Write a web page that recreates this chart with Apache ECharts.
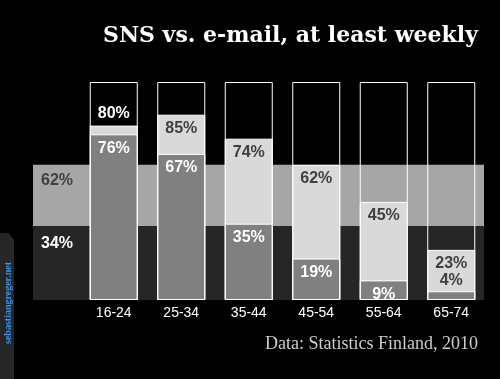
<!DOCTYPE html>
<html>
<head>
<meta charset="utf-8">
<script src="https://cdn.jsdelivr.net/npm/echarts@6/dist/echarts.min.js"></script>
<style>
  html, body { margin: 0; padding: 0; background: #000; }
  #chart { width: 500px; height: 379px; }
</style>
</head>
<body>
<div id="chart"></div>
<script>
// age groups
const categories = ['16-24', '25-34', '35-44', '45-54', '55-64', '65-74']
// share using e-mail / SNS at least weekly (%)
const emailValues = [80, 85, 74, 62, 45, 23]
const snsValues = [76, 67, 35, 19, 9, 4]
const totalValues = [100, 100, 100, 100, 100, 100]
// averages over all age groups
const emailAverage = 62
const snsAverage = 34

const labelFont = { fontFamily: 'Liberation Sans, Arial', fontWeight: 'bold', fontSize: 16 }

const chart = echarts.init(document.getElementById('chart'))

chart.setOption({
  backgroundColor: '#000',
  animation: false,
  title: [{
    text: 'SNS vs. e-mail, at least weekly',
    right: 17,
    top: 20,
    textStyle: { color: '#fff', fontFamily: 'DejaVu Serif', fontWeight: 'bold', fontSize: 22 }
  }, {
    text: 'Data: Statistics Finland, 2010',
    right: 17,
    top: 330,
    textStyle: { color: '#cccccc', fontFamily: 'Liberation Serif', fontWeight: 'normal', fontSize: 18 }
  }],
  // grid 0: background bands, grid 1: bars
  grid: [
    { left: 33, right: 16, top: 82, bottom: 79 },
    { left: 80, right: 15, top: 82, bottom: 79 }
  ],
  xAxis: [{
    gridIndex: 0,
    type: 'value',
    min: 0,
    max: 1,
    show: false
  }, {
    gridIndex: 1,
    type: 'category',
    data: categories,
    axisLine: { show: false },
    axisTick: { show: false },
    axisLabel: { color: '#fff', fontFamily: 'Liberation Sans, Arial', fontSize: 14, margin: 6 }
  }],
  yAxis: [
    { gridIndex: 0, type: 'value', min: 0, max: 100, show: false },
    { gridIndex: 1, type: 'value', min: 0, max: 100, show: false }
  ],
  series: [{
    type: 'line',
    xAxisIndex: 0,
    yAxisIndex: 0,
    data: [],
    z: 0,
    silent: true,
    markArea: {
      silent: true,
      data: [
        [{
          yAxis: snsAverage,
          itemStyle: { color: '#a6a6a6' },
          label: { show: true, formatter: emailAverage + '%', position: 'insideTopLeft', distance: 8, color: '#404040', ...labelFont }
        }, { yAxis: emailAverage }],
        [{
          yAxis: 0,
          itemStyle: { color: '#262626' },
          label: { show: true, formatter: snsAverage + '%', position: 'insideTopLeft', distance: 8, offset: [0, 2], color: '#fff', ...labelFont }
        }, { yAxis: snsAverage }]
      ]
    }
  }, {
    name: 'e-mail',
    type: 'bar',
    xAxisIndex: 1,
    yAxisIndex: 1,
    barWidth: 48,
    barGap: '-100%',
    z: 2,
    itemStyle: { color: '#d9d9d9', borderColor: '#fff', borderWidth: 1 },
    label: {
      show: true,
      position: 'insideTop',
      distance: 6,
      formatter: '{c}%',
      color: '#404040',
      ...labelFont
    },
    data: emailValues.map((v, i) => i === 0
      ? { value: v, label: { position: 'top', distance: 4, color: '#fff' } }
      : v)
  }, {
    name: 'SNS',
    type: 'bar',
    xAxisIndex: 1,
    yAxisIndex: 1,
    barWidth: 48,
    barGap: '-100%',
    z: 3,
    itemStyle: { color: '#808080', borderColor: '#fff', borderWidth: 1 },
    label: {
      show: true,
      position: 'insideTop',
      distance: 6,
      formatter: '{c}%',
      color: '#fff',
      ...labelFont
    },
    data: snsValues.map((v, i) => i === snsValues.length - 1
      ? { value: v, label: { position: 'top', distance: 3, color: '#404040' } }
      : v)
  }, {
    name: 'total',
    type: 'bar',
    xAxisIndex: 1,
    yAxisIndex: 1,
    barWidth: 48,
    barGap: '-100%',
    z: 4,
    silent: true,
    itemStyle: { color: 'transparent', borderColor: '#fff', borderWidth: 1 },
    data: totalValues
  }],
  graphic: [{
    type: 'polygon',
    shape: { points: [[0, 233], [9, 233], [14, 240], [14, 379], [0, 379]] },
    style: { fill: '#262626' }
  }, {
    type: 'text',
    x: 8,
    y: 303,
    rotation: Math.PI / 2,
    style: {
      text: 'sebastiangreger.net',
      fill: '#3d8fe0',
      font: 'bold 10px "Liberation Serif"',
      align: 'center',
      verticalAlign: 'middle'
    }
  }]
})
</script>
</body>
</html>
